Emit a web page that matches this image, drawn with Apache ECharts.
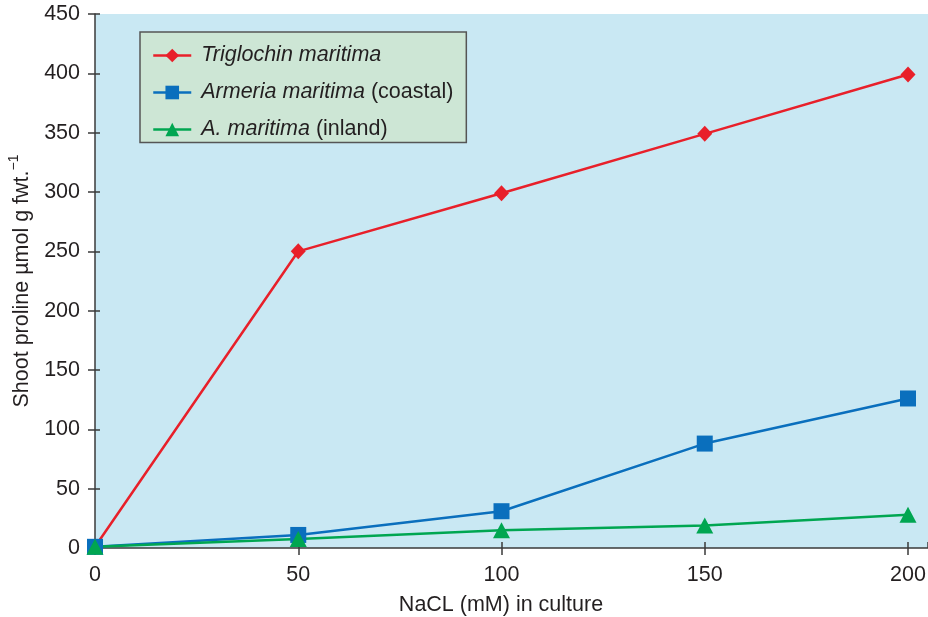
<!DOCTYPE html>
<html>
<head>
<meta charset="utf-8">
<script src="https://cdn.jsdelivr.net/npm/echarts@6/dist/echarts.min.js"></script>
<style>
  html, body { margin: 0; padding: 0; background: #fff; }
  #chart { width: 928px; height: 617px; }
</style>
</head>
<body>
<div id="chart"></div>
<script>
// NaCl concentration in culture (mM)
const nacl = [0, 50, 100, 150, 200];
// Shoot proline (µmol g fwt.^-1)
const triglochin = [1, 250, 299, 349, 399];
const armeriaCoastal = [1, 11, 31, 88, 126];
const armeriaInland = [1, 7.5, 15, 19, 28];
const yTicks = [0, 50, 100, 150, 200, 250, 300, 350, 400, 450];
const xTicks = [0, 50, 100, 150, 200];

const seriesNames = ['Triglochin maritima', 'Armeria maritima (coastal)', 'A. maritima (inland)'];
const legendLabels = {
  'Triglochin maritima': '{i|Triglochin maritima}',
  'Armeria maritima (coastal)': '{i|Armeria maritima}{r| (coastal)}',
  'A. maritima (inland)': '{i|A. maritima}{r| (inland)}'
};

const FONT = "'Liberation Sans', Arial, sans-serif";
const FS = 21.5;
const TXT = '#231f20';
const AXIS = '#3a3a3a';

// the shaded plot area runs a little past the last tick
const X_MAX = 200 * 833 / 813;

const pairs = arr => nacl.map((x, i) => [x, arr[i]]);

const chart = echarts.init(document.getElementById('chart'), null, { renderer: 'canvas' });

const tickLabelStyle = { color: TXT, fontSize: FS, fontFamily: FONT };
const gridBox = { left: 95, right: 0, top: 14, bottom: 69, containLabel: false, outerBoundsMode: 'none' };

chart.setOption({
  animation: false,
  textStyle: { fontFamily: FONT, color: TXT },
  grid: [
    Object.assign({ show: true, backgroundColor: '#c9e8f3', borderWidth: 0 }, gridBox),
    // overlay grid carrying the inner half of each crossing tick
    Object.assign({ show: false }, gridBox)
  ],
  legend: {
    data: seriesNames,
    orient: 'vertical',
    left: 140, top: 32,
    itemWidth: 38, itemHeight: 17,
    itemGap: 15,
    padding: [12.5, 13, 2, 12],
    backgroundColor: '#cde6d5',
    borderColor: '#555',
    borderWidth: 1.5,
    borderRadius: 0,
    lineStyle: { width: 2.5 },
    formatter: name => legendLabels[name],
    textStyle: {
      fontSize: FS, color: TXT, fontFamily: FONT, padding: [0, 0, 0, 5],
      rich: {
        i: { fontSize: FS, fontStyle: 'italic', color: TXT, fontFamily: FONT, lineHeight: 22 },
        r: { fontSize: FS, color: TXT, fontFamily: FONT, lineHeight: 22 }
      }
    }
  },
  xAxis: [{
    gridIndex: 0, type: 'value', min: 0, max: X_MAX, interval: 50,
    name: 'NaCL (mM) in culture',
    nameLocation: 'middle', nameGap: 46,
    nameTextStyle: { fontSize: FS, color: TXT, fontFamily: FONT, padding: [0, 21, 0, 0] },
    axisLine: { show: true, lineStyle: { color: AXIS, width: 1.5 } },
    axisTick: { show: true, length: 7, lineStyle: { color: AXIS, width: 1.5 } },
    axisLabel: Object.assign({ margin: 16, showMaxLabel: false,
      formatter: v => (xTicks.indexOf(v) >= 0 ? String(v) : '') }, tickLabelStyle),
    splitLine: { show: false }
  }, {
    gridIndex: 1, type: 'value', min: 0, max: X_MAX, interval: 50, position: 'bottom',
    axisLine: { show: false },
    axisTick: { show: true, inside: true, length: 6, lineStyle: { color: AXIS, width: 1.5 } },
    axisLabel: { show: false }, splitLine: { show: false }
  }],
  yAxis: [{
    gridIndex: 0, type: 'value', min: 0, max: 450, interval: 50,
    name: '{n|Shoot proline µmol g fwt.}{s|−1}',
    nameLocation: 'middle', nameGap: 62, nameRotate: 90,
    nameTextStyle: {
      fontSize: FS, color: TXT, fontFamily: FONT,
      rich: {
        n: { fontSize: FS, color: TXT, fontFamily: FONT, lineHeight: 26, verticalAlign: 'bottom' },
        s: { fontSize: 14, color: TXT, fontFamily: FONT, lineHeight: 26, verticalAlign: 'top' }
      }
    },
    axisLine: { show: true, lineStyle: { color: AXIS, width: 1.5 } },
    axisTick: { show: true, length: 7, lineStyle: { color: AXIS, width: 1.5 } },
    axisLabel: Object.assign({ margin: 15,
      formatter: v => (yTicks.indexOf(v) >= 0 ? String(v) : '') }, tickLabelStyle),
    splitLine: { show: false }
  }, {
    gridIndex: 1, type: 'value', min: 0, max: 450, interval: 50, position: 'left',
    axisLine: { show: false },
    axisTick: { show: true, inside: true, length: 5, lineStyle: { color: AXIS, width: 1.5 } },
    axisLabel: { show: false }, splitLine: { show: false }
  }],
  series: [{
    name: seriesNames[0], type: 'line', data: pairs(triglochin),
    xAxisIndex: 0, yAxisIndex: 0,
    symbol: 'diamond', symbolSize: [15, 16], showAllSymbol: true,
    color: '#e8202a',
    lineStyle: { width: 2.5, color: '#e8202a' },
    itemStyle: { color: '#e8202a' }
  }, {
    name: seriesNames[1], type: 'line', data: pairs(armeriaCoastal),
    xAxisIndex: 0, yAxisIndex: 0,
    symbol: 'rect', symbolSize: 16, showAllSymbol: true,
    color: '#0a6fbd',
    lineStyle: { width: 2.5, color: '#0a6fbd' },
    itemStyle: { color: '#0a6fbd' }
  }, {
    name: seriesNames[2], type: 'line', data: pairs(armeriaInland),
    xAxisIndex: 0, yAxisIndex: 0,
    symbol: 'triangle', symbolSize: [17, 16], showAllSymbol: true,
    color: '#00a651',
    lineStyle: { width: 2.5, color: '#00a651' },
    itemStyle: { color: '#00a651' }
  }]
});
</script>
</body>
</html>
